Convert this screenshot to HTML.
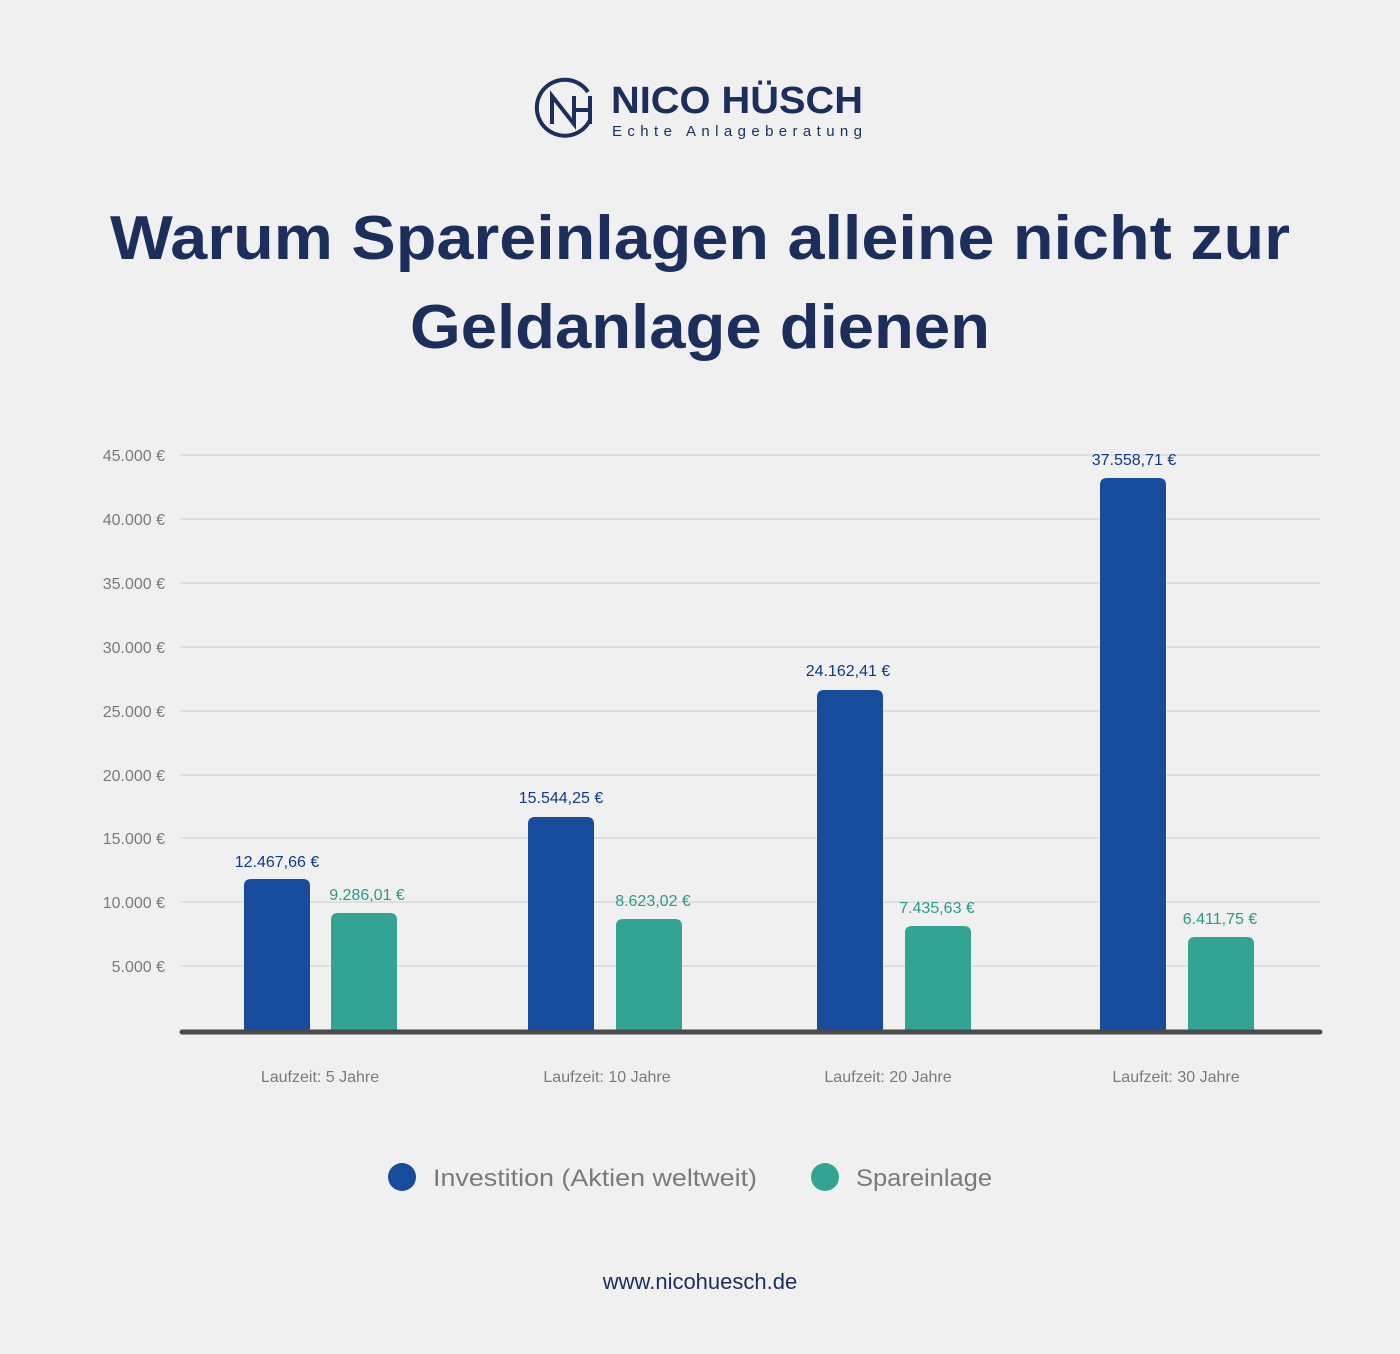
<!DOCTYPE html>
<html><head><meta charset="utf-8"><style>
html,body{margin:0;padding:0;background:#f0f0f0;}
svg{display:block}
text{font-family:"Liberation Sans","DejaVu Sans",sans-serif}
</style></head><body>
<svg width="1400" height="1354" viewBox="0 0 1400 1354" xmlns="http://www.w3.org/2000/svg">
<rect width="1400" height="1354" fill="#f0f0f0"/>
<g fill="none" stroke="#1c2e5c" stroke-width="4">
<path d="M 588 92 A 28 28 0 1 0 590 120"/>
<path d="M 552 124 L 552 96 L 574 124 L 574 96 M 574 110 L 590 110 M 590 96 L 590 124"/>
</g>
<text x="611" y="113" font-size="38" font-weight="bold" fill="#1c2e5c" textLength="252" lengthAdjust="spacingAndGlyphs">NICO HÜSCH</text>
<text x="612" y="136" font-size="15" fill="#1c2e5c" textLength="250" lengthAdjust="spacing">Echte Anlageberatung</text>
<text x="110" y="259" font-size="62" font-weight="bold" fill="#1c2e5c" textLength="1180" lengthAdjust="spacingAndGlyphs">Warum Spareinlagen alleine nicht zur</text>
<text x="410" y="348" font-size="62" font-weight="bold" fill="#1c2e5c" textLength="580" lengthAdjust="spacingAndGlyphs">Geldanlage dienen</text>
<g stroke="#d8d8d8" stroke-width="1.5">
<line x1="180" x2="1320" y1="455" y2="455"/><line x1="180" x2="1320" y1="519" y2="519"/>
<line x1="180" x2="1320" y1="583" y2="583"/><line x1="180" x2="1320" y1="647" y2="647"/>
<line x1="180" x2="1320" y1="711" y2="711"/><line x1="180" x2="1320" y1="775" y2="775"/>
<line x1="180" x2="1320" y1="838" y2="838"/><line x1="180" x2="1320" y1="902" y2="902"/>
<line x1="180" x2="1320" y1="966" y2="966"/>
</g>
<g font-size="16" fill="#7a7a7a" text-anchor="end">
<text x="165" y="461">45.000 €</text><text x="165" y="525">40.000 €</text>
<text x="165" y="589">35.000 €</text><text x="165" y="653">30.000 €</text>
<text x="165" y="717">25.000 €</text><text x="165" y="781">20.000 €</text>
<text x="165" y="844">15.000 €</text><text x="165" y="908">10.000 €</text>
<text x="165" y="972">5.000 €</text>
</g>
<g fill="#174c9c">
<path d="M244 1032 V886 Q244 879 251 879 H303 Q310 879 310 886 V1032 Z"/>
<path d="M528 1032 V824 Q528 817 535 817 H587 Q594 817 594 824 V1032 Z"/>
<path d="M817 1032 V697 Q817 690 824 690 H876 Q883 690 883 697 V1032 Z"/>
<path d="M1100 1032 V485 Q1100 478 1107 478 H1159 Q1166 478 1166 485 V1032 Z"/>
</g>
<g fill="#33a393">
<path d="M331 1032 V920 Q331 913 338 913 H390 Q397 913 397 920 V1032 Z"/>
<path d="M616 1032 V926 Q616 919 623 919 H675 Q682 919 682 926 V1032 Z"/>
<path d="M905 1032 V933 Q905 926 912 926 H964 Q971 926 971 933 V1032 Z"/>
<path d="M1188 1032 V944 Q1188 937 1195 937 H1247 Q1254 937 1254 944 V1032 Z"/>
</g>
<line x1="182" x2="1320" y1="1032" y2="1032" stroke="#4a4a4a" stroke-width="5" stroke-linecap="round"/>
<g font-size="16" fill="#0f3a88" text-anchor="middle">
<text x="277" y="867">12.467,66  €</text>
<text x="561" y="803">15.544,25 €</text>
<text x="848" y="676">24.162,41 €</text>
<text x="1134" y="465">37.558,71 €</text>
</g>
<g font-size="16" fill="#2a9a88" text-anchor="middle">
<text x="367" y="900">9.286,01 €</text>
<text x="653" y="906">8.623,02 €</text>
<text x="937" y="913">7.435,63 €</text>
<text x="1220" y="924">6.411,75 €</text>
</g>
<g font-size="16" fill="#7a7a7a" text-anchor="middle">
<text x="320" y="1082">Laufzeit: 5 Jahre</text>
<text x="607" y="1082">Laufzeit: 10 Jahre</text>
<text x="888" y="1082">Laufzeit: 20 Jahre</text>
<text x="1176" y="1082">Laufzeit: 30 Jahre</text>
</g>
<circle cx="402" cy="1177" r="14" fill="#174c9c"/>
<text x="433" y="1186" font-size="24" fill="#7a7a7a" textLength="324" lengthAdjust="spacingAndGlyphs">Investition (Aktien weltweit)</text>
<circle cx="825" cy="1177" r="14" fill="#33a393"/>
<text x="856" y="1186" font-size="24" fill="#7a7a7a" textLength="136" lengthAdjust="spacingAndGlyphs">Spareinlage</text>
<text x="700" y="1289" font-size="22" fill="#1c2e5c" text-anchor="middle">www.nicohuesch.de</text>
</svg>
</body></html>
